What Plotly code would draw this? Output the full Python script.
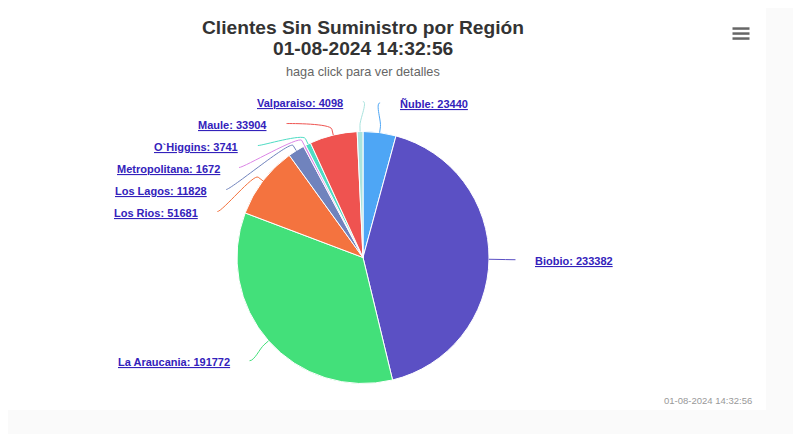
import math
import plotly.graph_objects as go

# ---- data ----
regions = ["Ñuble", "Biobio", "La Araucania", "Los Rios", "Los Lagos",
           "Metropolitana", "O`Higgins", "Maule", "Valparaiso"]
clients = [23440, 233382, 191772, 51681, 11828, 1672, 3741, 33904, 4098]
colors = ["#4ea6f5", "#5b50c4", "#43e07a", "#f4733f", "#7083bd",
          "#dc86e6", "#4fdcc4", "#ef5350", "#a9e3de"]
title_text = "Clientes Sin Suministro por Región"
timestamp = "01-08-2024 14:32:56"
subtitle_text = "haga click para ver detalles"

# ---- geometry (screen pixels; page body has an 8px margin) ----
WIN_W, WIN_H = 801, 434
OFF = 8
W, H = WIN_W - OFF, WIN_H - OFF
cx, cy, r = 363, 257.5, 126
dist = 30
R = r + dist
spacing = 22
FONT = "Liberation Sans, Arial, sans-serif"


def px(x):
    return (x - OFF) / W


def py(y):
    return (WIN_H - y) / H


fig = go.Figure()
fig.add_trace(go.Pie(
    labels=regions, values=clients, sort=False, direction="clockwise",
    rotation=0, marker=dict(colors=colors, line=dict(color="white", width=1)),
    textinfo="none", hoverinfo="label+value", showlegend=False,
    domain=dict(x=[px(cx - r), px(cx + r)], y=[py(cy + r), py(cy - r)]),
))

total = float(sum(clients))
pts = []
acc = 0.0
for name, v, col in zip(regions, clients, colors):
    a0 = acc / total * 2 * math.pi
    acc += v
    a1 = acc / total * 2 * math.pi
    th = (a0 + a1) / 2
    ny = cy - R * math.cos(th)
    pts.append(dict(name=name, v=v, col=col, th=th, ny=ny, left=math.sin(th) < 0))

# distribute labels on each side (push down to avoid overlap)
for side in (True, False):
    group = sorted([p for p in pts if p["left"] == side], key=lambda p: p["ny"])
    prev = -1e9
    for p in group:
        y = max(p["ny"], prev + spacing)
        p["y"] = y
        prev = y

shapes = []
annotations = []
for p in pts:
    sgn = -1 if p["left"] else 1
    y = p["y"]
    x0 = cx + sgn * math.sqrt(max(R * R - (y - cy) ** 2, 0))
    th = p["th"]
    sx, sy = x0 - sgn * 3.5, y
    ex, ey = cx + r * math.sin(th), cy - r * math.cos(th)
    bx, by = cx + (r + 6) * math.sin(th), cy - (r + 6) * math.cos(th)
    c2x, c2y = cx + (r + 12) * math.sin(th), cy - (r + 12) * math.cos(th)
    c1x, c1y = sx - sgn * 5, sy
    shapes.append(dict(
        type="path", xref="x", yref="y",
        path=f"M {sx:.2f},{sy:.2f} C {c1x:.2f},{c1y:.2f} {c2x:.2f},{c2y:.2f} {bx:.2f},{by:.2f} L {ex:.2f},{ey:.2f}",
        line=dict(color=p["col"], width=1),
    ))
    annotations.append(dict(
        x=x0 + sgn * 14, y=y + 1.5, xref="x", yref="y",
        text=f"{p['name']}: {p['v']}", showarrow=False,
        xanchor="right" if p["left"] else "left", yanchor="middle",
        font=dict(family=FONT, size=11, color="#3322bb", weight="bold", lineposition="under"),
    ))

# titles
annotations.append(dict(x=362.5, y=27, xref="x", yref="y", text=f"<b>{title_text}</b>",
                        showarrow=False, xanchor="center", yanchor="middle",
                        font=dict(family=FONT, size=19.2, color="#333333")))
annotations.append(dict(x=362.5, y=48, xref="x", yref="y", text=f"<b>{timestamp}</b>",
                        showarrow=False, xanchor="center", yanchor="middle",
                        font=dict(family=FONT, size=19.2, color="#333333")))
annotations.append(dict(x=363, y=72, xref="x", yref="y", text=subtitle_text,
                        showarrow=False, xanchor="center", yanchor="middle",
                        font=dict(family=FONT, size=12.7, color="#666666")))
annotations.append(dict(x=754, y=400, xref="x", yref="y", text=timestamp,
                        showarrow=False, xanchor="right", yanchor="middle",
                        font=dict(family=FONT, size=9.5, color="#999999")))

# background panel and menu icon
bg = [dict(type="rect", xref="x", yref="y", x0=0, x1=766, y0=0, y1=410,
           fillcolor="white", line=dict(width=0), layer="below")]
for yy in (27.3, 32.3, 37.3):
    bg.append(dict(type="rect", xref="x", yref="y", x0=732.5, x1=749.5, y0=yy, y1=yy + 2.5,
                   fillcolor="#666666", line=dict(width=0)))

fig.update_layout(
    width=W, height=H, margin=dict(l=0, r=0, t=0, b=0),
    paper_bgcolor="#fafafa", plot_bgcolor="rgba(0,0,0,0)",
    xaxis=dict(range=[OFF, WIN_W], visible=False, fixedrange=True),
    yaxis=dict(range=[WIN_H, OFF], visible=False, fixedrange=True),
    shapes=bg + shapes, annotations=annotations, showlegend=False,
)
fig.write_html("out.html")
